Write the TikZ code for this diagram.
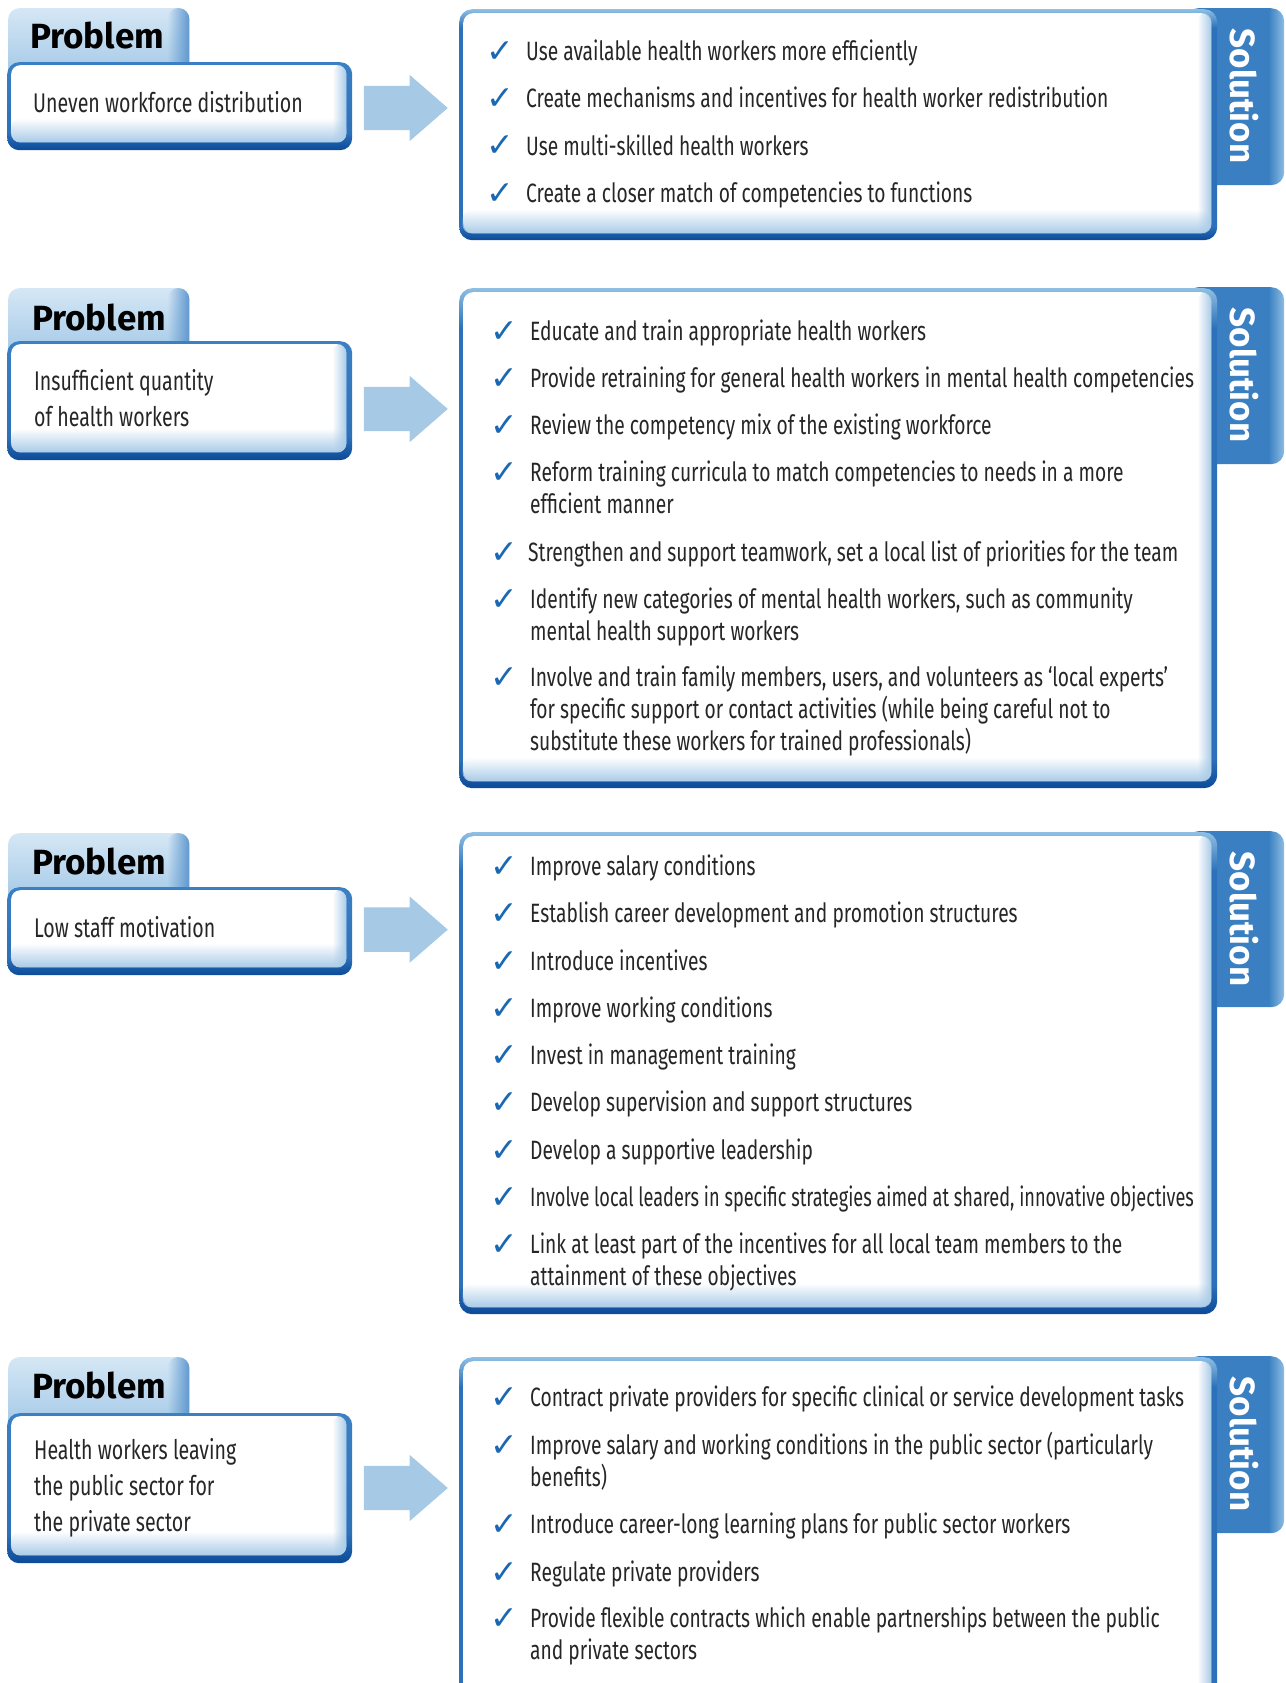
\documentclass[tikz,border=0pt]{standalone}
\usepackage{fontspec}
\setmainfont{Fira Sans}[FakeStretch=0.725]
\newfontfamily\tightf{Fira Sans}[FakeStretch=0.685]
\newfontfamily\headf{Fira Sans}
\newfontfamily\symf{DejaVu Sans}
\usetikzlibrary{shapes.arrows,fadings}
\definecolor{arrowblue}{HTML}{A6C9E5}
\definecolor{checkblue}{HTML}{1A68B3}
\definecolor{tabtop}{HTML}{D5E7F5}
\definecolor{tabbot}{HTML}{9CC4E5}
\definecolor{tabedge}{HTML}{5F98CF}
\definecolor{soltabc}{HTML}{3A7FC1}
\definecolor{soltabhi}{HTML}{8DBDE3}
\definecolor{bordtop}{HTML}{8FBFE3}
\definecolor{bordmid}{HTML}{2C71B9}
\definecolor{borddark}{HTML}{0C4A98}
\definecolor{probtopc}{HTML}{3B80C4}
\definecolor{glowc}{HTML}{A9CBE8}
\pgfdeclareverticalshading{solborder}{100bp}{color(0bp)=(borddark); color(25bp)=(borddark); color(28bp)=(bordmid); color(71bp)=(bordmid); color(75bp)=(bordtop); color(100bp)=(bordtop)}
\pgfdeclareverticalshading{probborder}{100bp}{color(0bp)=(borddark); color(25bp)=(borddark); color(35bp)=(bordmid); color(75bp)=(probtopc); color(100bp)=(probtopc)}
\pgfdeclarehorizontalshading{soltabshade}{100bp}{color(0bp)=(soltabc); color(25bp)=(soltabc); color(67bp)=(soltabc); color(75bp)=(soltabhi); color(100bp)=(soltabhi)}
\tikzfading[name=glowup, top color=transparent!100, bottom color=transparent!0]
\tikzfading[name=glowleft, left color=transparent!100, right color=transparent!0]
\tikzset{
  probtab/.style={anchor=north west, inner sep=0, minimum width=181, rounded corners=11, top color=tabtop, bottom color=tabbot},
  tabrim/.style={fill=tabedge, path fading=glowleft, rounded corners=11},
  probout/.style={anchor=north west, inner sep=0, minimum width=345, rounded corners=12, shading=probborder},
  probin/.style={anchor=north west, inner sep=0, minimum width=335, rounded corners=9, fill=white},
  soltab/.style={anchor=north west, inner sep=0, minimum width=99, rounded corners=13, shading=soltabshade},
  solout/.style={anchor=north west, inner sep=0, minimum width=758, rounded corners=13, shading=solborder},
  solin/.style={anchor=north west, inner sep=0, minimum width=748, rounded corners=10, fill=white},
  probhead/.style={anchor=base west, inner sep=0, font=\headf\bfseries\fontsize{35}{35}\selectfont},
  solhead/.style={inner sep=0, rotate=-90, text=white, font=\headf\bfseries\fontsize{35}{35}\selectfont},
  probtxt/.style={anchor=base west, inner sep=0, align=left, font=\fontsize{27}{36}\selectfont, text=black!85},
  itemtxt/.style={anchor=base west, inner sep=0, align=left, font=\fontsize{26.5}{32.2}\selectfont, text=black!85},
  chk/.style={anchor=base west, inner sep=0, text=checkblue, font=\symf\fontsize{33}{33}\selectfont},
  fatarrow/.style={shape=single arrow, fill=arrowblue, draw=none, inner xsep=0, inner ysep=22, minimum height=84, minimum width=66, single arrow head extend=11, single arrow tip angle=82},
  glowbot/.style={fill=glowc, path fading=glowup, rounded corners=9},
  glowright/.style={fill=glowc, path fading=glowleft, rounded corners=9}
}
\newcommand\glowin[1]{%
  \fill[glowright] ([xshift=-14pt]#1.north east) rectangle (#1.south east);
  \fill[glowbot] (#1.south west) rectangle ([yshift=24pt]#1.south east);}
% name, tabtop, boxtop, boxbottom
\newcommand\probpanel[4]{%
  \node[probtab, minimum height={#3-#2+24}] (#1tab) at (8,#2) {};
  \fill[tabrim] ([xshift=-22pt]#1tab.north east) rectangle (#1tab.south east);
  \node[probout, minimum height={#4-#3}] (#1box) at (7,#3) {};
  \node[probin, minimum height={#4-#3-11}] (#1in) at (11,{#3+3}) {};
  \glowin{#1in}}
% name, top, bottom, tabbottom
\newcommand\solpanel[4]{%
  \node[soltab, minimum height={#4-#2+1}] (#1tab) at (1185,{#2-1}) {};
  \node[solout, minimum height={#3-#2}] (#1box) at (459,#2) {};
  \node[solin, minimum height={#3-#2-11}] (#1in) at (463,{#2+4}) {};
  \glowin{#1in}
  \node[solhead] (#1head) at (1244,{#2+87}) {Solution};}
% name, checkx, textx, first baseline, extra lines, text
\newcommand\itm[6]{%
  \node[chk] (#1c) at ({#2-2},{#4+2}) {✓};
  \node[itemtxt] (#1) at (#3,{#4+#5*32.2}) {#6};}
\begin{document}
\begin{tikzpicture}[x=1pt,y=-1pt]
\useasboundingbox (0,0) rectangle (1285,1683);
\clip (0,0) rectangle (1285,1683);
% ---------- Panel 1
\solpanel{s1}{9}{240}{185}
\probpanel{p1}{8}{62}{150}
\node[probhead] (p1head) at (30,48.3) {Problem};
\node[probtxt] (p1txt) at (33,113) {Uneven workforce distribution};
\node[fatarrow] (a1) at (393,108) {};
\itm{i11}{488}{526}{61}{0}{Use available health workers more efficiently}
\itm{i12}{488}{526}{108}{0}{Create mechanisms and incentives for health worker redistribution}
\itm{i13}{488}{526}{155}{0}{Use multi-skilled health workers}
\itm{i14}{488}{526}{202}{0}{Create a closer match of competencies to functions}
% ---------- Panel 2
\solpanel{s2}{288}{788}{464}
\probpanel{p2}{288}{341}{460}
\node[probhead] (p2head) at (32,330.7) {Problem};
\node[probtxt] (p2txt) at (34,426) {Insufficient quantity\\of health workers};
\node[fatarrow] (a2) at (393,409) {};
\itm{i21}{492}{530}{340}{0}{Educate and train appropriate health workers}
\itm{i22}{492}{530}{387}{0}{Provide retraining for general health workers in mental health competencies}
\itm{i23}{492}{530}{434}{0}{Review the competency mix of the existing workforce}
\itm{i24}{492}{530}{481}{1}{Reform training curricula to match competencies to needs in a more\\efficient manner}
\itm{i25}{492}{528}{561}{0}{Strengthen and support teamwork, set a local list of priorities for the team}
\itm{i26}{492}{530}{608}{1}{Identify new categories of mental health workers, such as community\\mental health support workers}
\itm{i27}{492}{530}{686}{2}{Involve and train family members, users, and volunteers as ‘local experts’\\for specific support or contact activities (while being careful not to\\substitute these workers for trained professionals)}
% ---------- Panel 3
\solpanel{s3}{832}{1314}{1007}
\probpanel{p3}{833}{887}{975}
\node[probhead] (p3head) at (32,874.7) {Problem};
\node[probtxt] (p3txt) at (34,937.6) {Low staff motivation};
\node[fatarrow] (a3) at (393,929.6) {};
\itm{i31}{492}{530}{875}{0}{Improve salary conditions}
\itm{i32}{492}{530}{922.5}{0}{Establish career development and promotion structures}
\itm{i33}{492}{530}{970}{0}{Introduce incentives}
\itm{i34}{492}{530}{1017}{0}{Improve working conditions}
\itm{i35}{492}{530}{1064}{0}{Invest in management training}
\itm{i36}{492}{530}{1111.5}{0}{Develop supervision and support structures}
\itm{i37}{492}{530}{1159}{0}{Develop a supportive leadership}
\itm{i38}{492}{530}{1206}{0}{\tightf Involve local leaders in specific strategies aimed at shared, innovative objectives}
\itm{i39}{492}{530}{1253}{1}{Link at least part of the incentives for all local team members to the\\attainment of these objectives}
% ---------- Panel 4
\solpanel{s4}{1357}{1730}{1533}
\probpanel{p4}{1357}{1413}{1563}
\node[probhead] (p4head) at (32,1398.7) {Problem};
\node[probtxt] (p4txt) at (34,1531) {Health workers leaving\\the public sector for\\the private sector};
\node[fatarrow] (a4) at (393,1488) {};
\itm{i41}{492}{530}{1406}{0}{Contract private providers for specific clinical or service development tasks}
\itm{i42}{492}{530}{1454}{1}{Improve salary and working conditions in the public sector (particularly\\benefits)}
\itm{i43}{492}{530}{1533}{0}{Introduce career-long learning plans for public sector workers}
\itm{i44}{492}{530}{1581}{0}{Regulate private providers}
\itm{i45}{492}{530}{1627}{1}{Provide flexible contracts which enable partnerships between the public\\and private sectors}
\end{tikzpicture}
\end{document}
